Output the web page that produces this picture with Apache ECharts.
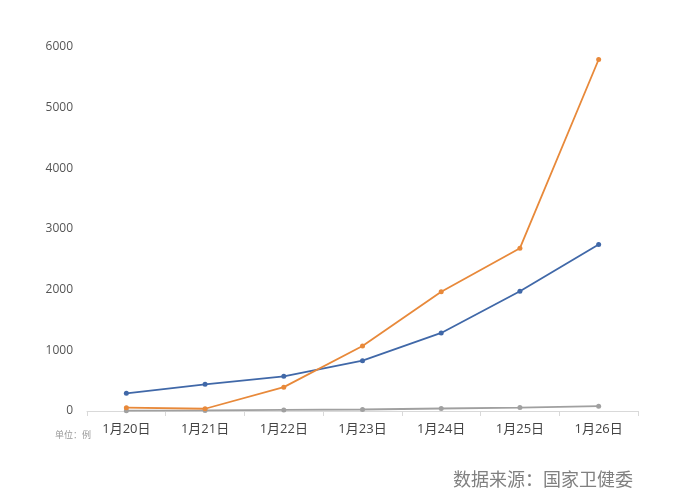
<!DOCTYPE html>
<html>
<head>
<meta charset="utf-8">
<script src="https://cdn.jsdelivr.net/npm/echarts@6/dist/echarts.min.js"></script>
<style>
html,body{margin:0;padding:0;background:#fff;}
#chart{width:700px;height:500px;}
</style>
</head>
<body>
<div id="chart"></div>
<script>
var categories = ['1月20日','1月21日','1月22日','1月23日','1月24日','1月25日','1月26日'];
var confirmed = [291, 440, 571, 830, 1287, 1975, 2744];
var suspected = [54, 37, 393, 1072, 1965, 2684, 5794];
var deaths = [6, 9, 17, 25, 41, 56, 80];
var yTicks = [0, 1000, 2000, 3000, 4000, 5000, 6000];

var chart = echarts.init(document.getElementById('chart'));
var font = '"Open Sans", "Noto Sans CJK SC", sans-serif';
function s(name, data, color) {
  return {
    name: name, type: 'line', data: data,
    symbol: 'circle', symbolSize: 5,
    lineStyle: {color: color, width: 1.8},
    itemStyle: {color: color},
    z: name === '死亡' ? 1 : 2
  };
}
chart.setOption({
  animation: false,
  backgroundColor: '#fff',
  grid: {left: 87, right: 62, top: 47, bottom: 89},
  title: [
    {text: '单位：例', left: 50, top: 426, textStyle: {fontSize: 9, color: '#999', fontWeight: 'normal', fontFamily: font}},
    {text: '数据来源：国家卫健委', right: 62, top: 467, textStyle: {fontSize: 18, color: '#808080', fontWeight: 'normal', fontFamily: font}}
  ],
  xAxis: {
    type: 'category', data: categories, boundaryGap: true,
    axisLine: {lineStyle: {color: '#d9d9d9', width: 1}},
    axisTick: {show: true, lineStyle: {color: '#d9d9d9'}, length: 5},
    axisLabel: {color: '#444', fontSize: 13, margin: 12, fontFamily: font}
  },
  yAxis: {
    type: 'value', min: yTicks[0], max: yTicks[yTicks.length-1], interval: 1000,
    axisLine: {show: false}, axisTick: {show: false}, splitLine: {show: false},
    axisLabel: {color: '#555', fontSize: 12, margin: 14, fontFamily: font, formatter: function(v){ return String(v); }}
  },
  series: [
    s('死亡', deaths, '#a0a0a0'),
    s('确诊', confirmed, '#4068a8'),
    s('疑似', suspected, '#e8893a')
  ]
});
</script>
</body>
</html>
